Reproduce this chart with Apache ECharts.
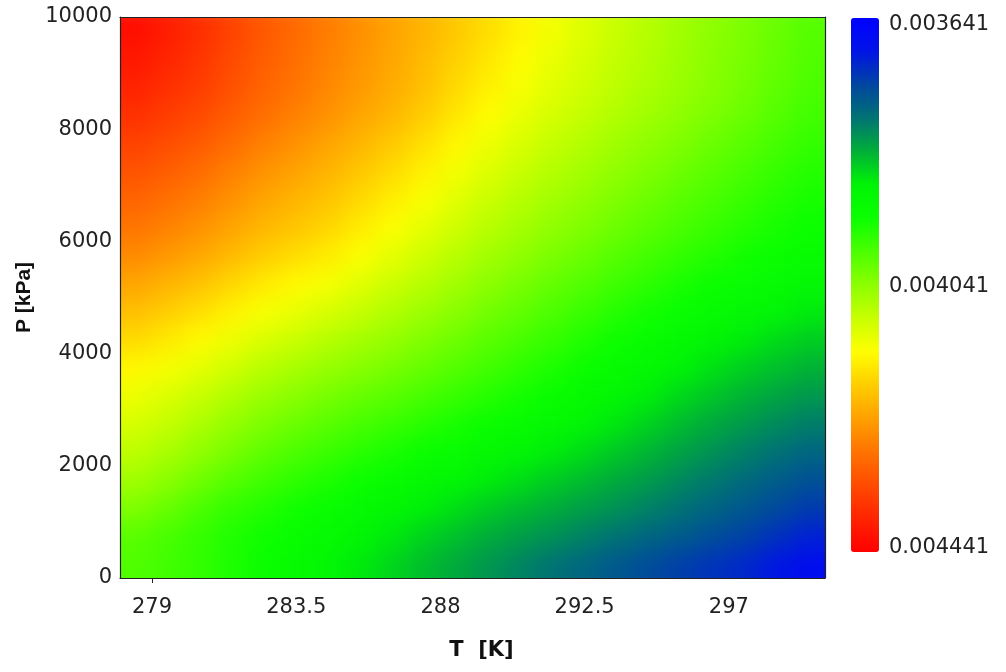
<!DOCTYPE html>
<html>
<head>
<meta charset="utf-8">
<script src="https://cdn.jsdelivr.net/npm/echarts@6/dist/echarts.min.js"></script>
<style>html,body{margin:0;padding:0;background:#fff}#c{width:1006px;height:672px}</style>
</head>
<body>
<div id="c"></div>
<script>
// Cell centres (T in K, P in kPa); cell size 1 K x 500 kPa
const tempK = [278.5,279.5,280.5,281.5,282.5,283.5,284.5,285.5,286.5,287.5,288.5,289.5,290.5,291.5,292.5,293.5,294.5,295.5,296.5,297.5,298.5,299.5];
const pressureKPa = [250,750,1250,1750,2250,2750,3250,3750,4250,4750,5250,5750,6250,6750,7250,7750,8250,8750,9250,9750];
// Field values in units of 1e-6, one array per pressure row
const p0250 = [3994,3983,3971,3955,3938,3920,3901,3884,3868,3851,3836,3820,3805,3790,3776,3761,3748,3734,3722,3711,3693,3673];
const p0750 = [4002,3988,3973,3958,3944,3929,3914,3897,3883,3867,3853,3839,3827,3815,3803,3790,3777,3764,3750,3737,3720,3704];
const p1250 = [4030,4012,3990,3972,3959,3945,3932,3916,3902,3888,3875,3861,3850,3839,3827,3816,3803,3789,3774,3760,3745,3730];
const p1750 = [4058,4040,4019,3999,3982,3968,3955,3940,3927,3913,3900,3886,3875,3862,3850,3837,3824,3809,3795,3781,3767,3753];
const p2250 = [4082,4064,4044,4025,4006,3992,3978,3964,3952,3938,3925,3911,3899,3886,3873,3859,3845,3830,3816,3802,3789,3776];
const p2750 = [4104,4087,4068,4048,4029,4015,4001,3988,3976,3963,3950,3936,3923,3910,3895,3881,3866,3850,3836,3823,3810,3799];
const p3250 = [4125,4108,4090,4071,4052,4038,4024,4012,4001,3988,3975,3961,3948,3933,3918,3902,3887,3870,3857,3844,3832,3822];
const p3750 = [4148,4133,4116,4097,4078,4064,4049,4037,4025,4011,3997,3983,3969,3954,3938,3923,3907,3890,3877,3864,3853,3843];
const p4250 = [4177,4162,4145,4126,4106,4092,4076,4062,4048,4032,4017,4002,3988,3973,3957,3942,3926,3911,3898,3885,3873,3863];
const p4750 = [4206,4191,4174,4154,4134,4120,4104,4088,4071,4054,4038,4021,4007,3991,3976,3961,3946,3931,3918,3905,3894,3884];
const p5250 = [4235,4220,4203,4182,4162,4147,4132,4113,4094,4076,4058,4040,4025,4009,3995,3980,3966,3951,3938,3925,3914,3904];
const p5750 = [4264,4249,4232,4211,4190,4175,4159,4138,4117,4097,4078,4059,4044,4028,4014,3999,3985,3972,3959,3946,3934,3924];
const p6250 = [4289,4274,4257,4235,4214,4199,4182,4160,4139,4117,4097,4077,4061,4044,4030,4016,4002,3989,3976,3962,3950,3939];
const p6750 = [4310,4295,4278,4256,4235,4218,4201,4179,4158,4136,4114,4093,4076,4059,4044,4030,4016,4002,3989,3975,3962,3950];
const p7250 = [4331,4317,4300,4277,4255,4238,4219,4198,4177,4154,4131,4110,4091,4074,4059,4044,4030,4016,4002,3988,3974,3961];
const p7750 = [4352,4338,4321,4298,4275,4257,4237,4217,4196,4172,4148,4126,4106,4088,4073,4057,4043,4030,4015,4001,3986,3972];
const p8250 = [4373,4359,4342,4319,4296,4276,4256,4236,4215,4191,4165,4142,4121,4103,4087,4071,4057,4043,4028,4014,3998,3983];
const p8750 = [4391,4376,4358,4333,4310,4289,4268,4248,4228,4204,4178,4155,4134,4114,4097,4081,4066,4052,4036,4022,4006,3990];
const p9250 = [4406,4388,4368,4342,4317,4296,4274,4254,4233,4211,4187,4165,4143,4122,4104,4086,4071,4055,4039,4025,4010,3995];
const p9750 = [4421,4400,4377,4351,4324,4302,4280,4259,4238,4218,4196,4174,4152,4130,4110,4091,4075,4058,4042,4028,4013,3999];
const fieldRows = [p0250,p0750,p1250,p1750,p2250,p2750,p3250,p3750,p4250,p4750,p5250,p5750,p6250,p6750,p7250,p7750,p8250,p8750,p9250,p9750];

const xTickLabels = [279, 283.5, 288, 292.5, 297];
const colorbarLabels = [3641, 4041, 4441];
const valueMin = 3641, valueMax = 4441;
const cellT = 1, cellP = 500;

const data = [];
fieldRows.forEach((row, j) => row.forEach((v, i) => data.push([tempK[i], pressureKPa[j], v])));

const font = 'DejaVu Sans';
const txt = '#222';
const chart = echarts.init(document.getElementById('c'), null, {renderer: 'canvas'});
const tFirst = tempK[0], tLast = tempK[tempK.length - 1];
const pFirst = pressureKPa[0], pLast = pressureKPa[pressureKPa.length - 1];
chart.setOption({
  animation: false,
  grid: [
    {left: 120, top: 17, width: 705, height: 561, zlevel: 1},
    {left: 851, top: 25, width: 28, height: 523, zlevel: 1}
  ],
  xAxis: [
    {type: 'value', gridIndex: 0, zlevel: 1, min: 278, max: 300, position: 'bottom',
     axisLine: {show: true, onZero: false, lineStyle: {color: '#222', width: 1.2}},
     axisTick: {show: true, customValues: [279], length: 5, lineStyle: {color: '#222'}},
     axisLabel: {customValues: xTickLabels, margin: 19, color: txt, fontSize: 21, fontFamily: font},
     splitLine: {show: false},
     name: 'T  [K]', nameLocation: 'middle', nameGap: 62,
     nameTextStyle: {color: '#111', fontSize: 21, fontWeight: 'bold', fontFamily: font, padding: [0, 0, 0, 18]}},
    {type: 'value', gridIndex: 0, zlevel: 1, min: 278, max: 300, position: 'top',
     axisLine: {show: true, onZero: false, lineStyle: {color: '#222', width: 1.2}},
     axisTick: {show: false}, axisLabel: {show: false}, splitLine: {show: false}},
    {type: 'value', gridIndex: 1, zlevel: 1, show: false, min: 0, max: 1}
  ],
  yAxis: [
    {type: 'value', gridIndex: 0, zlevel: 1, min: 0, max: 10000, interval: 2000, position: 'left',
     axisLine: {show: true, onZero: false, lineStyle: {color: '#222', width: 1.2}},
     axisTick: {show: false},
     axisLabel: {margin: 8, color: txt, fontSize: 21, fontFamily: font, formatter: v => String(v)},
     splitLine: {show: false},
     name: 'P [kPa]', nameLocation: 'middle', nameGap: 80, nameRotate: 90,
     nameTextStyle: {color: '#111', fontSize: 21, fontWeight: 'bold', fontFamily: 'Liberation Sans'}},
    {type: 'value', gridIndex: 0, zlevel: 1, min: 0, max: 10000, position: 'right',
     axisLine: {show: true, onZero: false, lineStyle: {color: '#222', width: 1.2}},
     axisTick: {show: false}, axisLabel: {show: false}, splitLine: {show: false}},
    {type: 'value', gridIndex: 1, zlevel: 1, min: valueMin, max: valueMax, inverse: true, position: 'right',
     axisLine: {show: false}, axisTick: {show: false}, splitLine: {show: false},
     axisLabel: {customValues: colorbarLabels, margin: 10, color: txt, fontSize: 21, fontFamily: font,
       formatter: v => (v * 1e-6).toFixed(6)}}
  ],
  visualMap: {
    type: 'continuous', min: valueMin, max: valueMax, dimension: 2, seriesIndex: 0, zlevel: 1,
    inverse: true, calculable: false, orient: 'vertical',
    left: 836, top: 3, itemWidth: 28, itemHeight: 534, text: null,
    inRange: {color: ['#0000ff','#0014e6','#0046a0','#007373','#00af37','#00f505','#0aff00','#4bff00','#8cff00','#c8ff00','#ffff00','#ffcd00','#ffa000','#ff7300','#ff4b00','#ff2300','#ff0000']}
  },
  series: [{
    type: 'custom', xAxisIndex: 0, yAxisIndex: 0, clip: false, zlevel: 0,
    encode: {x: 0, y: 1},
    data: data,
    renderItem: function (params, api) {
      const t = api.value(0), p = api.value(1);
      const c = api.coord([t, p]);
      const s = api.size([cellT, cellP]);
      let x0 = c[0] - s[0] / 2 - 0.3, x1 = c[0] + s[0] / 2 + 0.3;
      let y0 = c[1] - s[1] / 2 - 0.3, y1 = c[1] + s[1] / 2 + 0.3;
      const ext = 40; // extend edge cells outside the plot; hidden by the clip below
      if (t === tFirst) x0 -= ext;
      if (t === tLast) x1 += ext;
      if (p === pFirst) y1 += ext;
      if (p === pLast) y0 -= ext;
      return {type: 'rect', shape: {x: x0, y: y0, width: x1 - x0, height: y1 - y0},
        style: {fill: api.visual('color'), stroke: null}};
    }
  }]
});
// smooth the cell layer (zlevel 0) and clip it to the plot rectangle
const layers = document.querySelectorAll('#c canvas');
if (layers.length > 1) {
  layers[0].style.filter = 'blur(11px)';
  layers[0].style.clipPath = 'inset(17px 181px 94px 120px)';
}
</script>
</body>
</html>
